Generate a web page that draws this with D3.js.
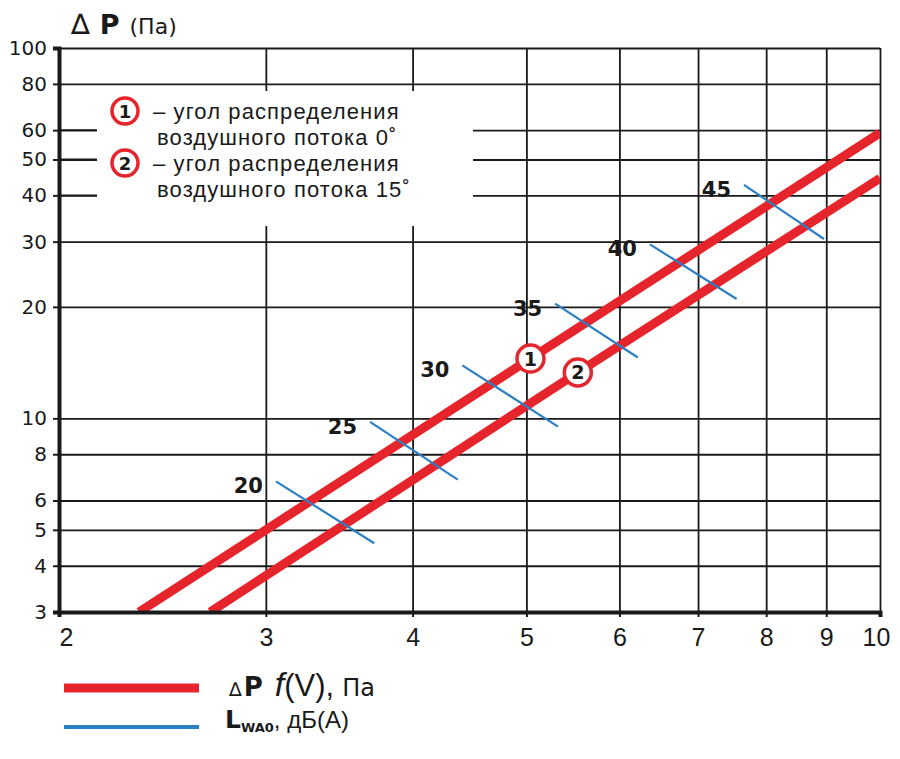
<!DOCTYPE html>
<html>
<head>
<meta charset="utf-8">
<script src="https://cdn.jsdelivr.net/npm/d3@7.9.0/dist/d3.min.js"></script>
<style>
  body { margin: 0; background: #fff; }
  svg { display: block; font-family: "Liberation Sans", Arial, sans-serif; }
</style>
</head>
<body>
<script>
// axis ticks
const flowTicks = [2, 3, 4, 5, 6, 7, 8, 9, 10];
const pressureTicks = [3, 4, 5, 6, 8, 10, 20, 30, 40, 50, 60, 80, 100];

// red curves, ΔP vs V
const curve1V = [2.34, 5.04, 10];
const curve1P = [3, 14.5, 59];
const curve2V = [2.69, 5.53, 10];
const curve2P = [3, 13.3, 44.5];

// numbered markers sitting on the curves
const markerIds = ["1", "2"];
const markerV = [5.04, 5.53];
const markerP = [14.5, 13.3];

// blue sound power lines, LWA0 dB(A)
const noiseLevels = [20, 25, 30, 35, 40, 45];
const noiseStartV = [3.06, 3.68, 4.41, 5.29, 6.37, 7.66];
const noiseStartP = [6.76, 9.78, 13.9, 20.4, 29.5, 42.7];
const noiseEndV = [3.71, 4.37, 5.32, 6.22, 7.55, 8.96];
const noiseEndP = [4.6, 6.83, 9.5, 14.6, 21.0, 30.5];

// legend text, two lines per numbered item
const legendItems = [
  ["– угол распределения", "воздушного потока 0˚"],
  ["– угол распределения", "воздушного потока 15˚"]
];

const red = "#e5242b";
const blue = "#2c7fc3";
const ink = "#1a1a1a";
const wide = "'DejaVu Sans', sans-serif";

let margin = { top: 48, right: 20, bottom: 147, left: 59 };
let width = 900 - margin.left - margin.right;
let height = 759 - margin.top - margin.bottom;

let svg = d3.select("body").append("svg")
  .attr("width", 900)
  .attr("height", 759);

let g = svg.append("g").attr("transform", `translate(${margin.left},${margin.top})`);

let x = d3.scaleLog().domain([2, 10]).range([0, width]);
let y = d3.scaleLog().domain([3, 100]).range([height, 0]);

// grid
let gridX = g.append("g")
  .attr("transform", `translate(0,${height})`)
  .call(d3.axisBottom(x).tickValues(flowTicks.slice(1)).tickSize(-height).tickFormat(""));
gridX.select(".domain").remove();
gridX.selectAll("line").attr("stroke", ink).attr("stroke-width", 1.8);

let gridY = g.append("g")
  .call(d3.axisLeft(y).tickValues(pressureTicks.slice(1)).tickSize(-width).tickFormat(""));
gridY.select(".domain").remove();
gridY.selectAll("line").attr("stroke", ink).attr("stroke-width", 1.8);

// white legend box knocks out the grid
g.append("rect")
  .attr("x", 97 - margin.left)
  .attr("y", 91 - margin.top)
  .attr("width", 376)
  .attr("height", 135)
  .attr("fill", "#fff");

g.append("clipPath").attr("id", "plot-clip")
  .append("rect").attr("width", width).attr("height", height);

let plot = g.append("g").attr("clip-path", "url(#plot-clip)");

let line = d3.line().x((d) => x(d.v)).y((d) => y(d.p));

[[curve1V, curve1P], [curve2V, curve2P]].forEach(([vs, ps]) => {
  plot.append("path")
    .datum(vs.map((v, i) => ({ v: v, p: ps[i] })))
    .attr("d", line)
    .attr("fill", "none")
    .attr("stroke", red)
    .attr("stroke-width", 9);
});

noiseLevels.forEach((lvl, i) => {
  let x0 = x(noiseStartV[i]), y0 = y(noiseStartP[i]);
  plot.append("line")
    .attr("x1", x0).attr("y1", y0)
    .attr("x2", x(noiseEndV[i])).attr("y2", y(noiseEndP[i]))
    .attr("stroke", blue)
    .attr("stroke-width", 2.2);
  g.append("text")
    .attr("x", x0 - 13)
    .attr("y", y0 + 12)
    .attr("text-anchor", "end")
    .attr("font-family", wide)
    .attr("font-size", 21)
    .attr("font-weight", "bold")
    .attr("fill", ink)
    .text(lvl);
});

markerIds.forEach((id, i) => {
  let cx = x(markerV[i]), cy = y(markerP[i]);
  g.append("circle")
    .attr("cx", cx).attr("cy", cy).attr("r", 13.5)
    .attr("fill", "#fff").attr("stroke", red).attr("stroke-width", 3.5);
  g.append("text")
    .attr("x", cx).attr("y", cy + 7)
    .attr("text-anchor", "middle")
    .attr("font-family", wide)
    .attr("font-size", 19).attr("font-weight", "bold")
    .attr("fill", ink)
    .text(id);
});

// axes
let axisX = g.append("g")
  .attr("transform", `translate(0,${height})`)
  .call(d3.axisBottom(x).tickValues(flowTicks).tickSize(5).tickPadding(11).tickFormat(d3.format("d")));
axisX.select(".domain").attr("stroke", ink).attr("stroke-width", 4);
axisX.selectAll("line").attr("stroke", ink).attr("stroke-width", 2);
axisX.selectAll("text")
  .attr("font-family", "'Liberation Sans Narrow', 'Liberation Sans', Arial, sans-serif")
  .attr("font-size", 25)
  .attr("fill", ink);
axisX.selectAll("text").filter((d) => d === 2).attr("dx", 7);
axisX.selectAll("text").filter((d) => d === 10).attr("dx", -4);

let axisY = g.append("g")
  .call(d3.axisLeft(y).tickValues(pressureTicks).tickSize(6).tickPadding(6).tickFormat(d3.format("d")));
axisY.select(".domain").attr("stroke", ink).attr("stroke-width", 4);
axisY.selectAll("line").attr("stroke", ink).attr("stroke-width", 2);
axisY.selectAll("text")
  .attr("font-family", wide)
  .attr("font-size", 20)
  .attr("fill", ink);

// left ticks for 40/50/60 run into the box edge
[40, 50, 60].forEach((p) => {
  g.append("line")
    .attr("x1", 0).attr("x2", 97 - margin.left)
    .attr("y1", y(p)).attr("y2", y(p))
    .attr("stroke", ink).attr("stroke-width", 1.8);
});

// y title
let title = svg.append("text").attr("x", 71).attr("y", 34).attr("fill", ink).attr("font-family", wide);
title.append("tspan").attr("font-size", 28).text("∆");
title.append("tspan").attr("dx", 10).attr("font-size", 27).attr("font-weight", "bold").text("P");
title.append("tspan").attr("dx", 10).attr("font-size", 22).text("(Па)");

// legend inside the chart
let itemBase = [119, 171];
legendItems.forEach((rows, i) => {
  let t = svg.append("text")
    .attr("y", itemBase[i])
    .attr("font-size", 22)
    .attr("letter-spacing", 1.1)
    .attr("fill", ink);
  t.append("tspan").attr("x", 153).text(rows[0]);
  t.append("tspan").attr("x", 157).attr("dy", 26).text(rows[1]);

  let cy = itemBase[i] - 8;
  svg.append("circle")
    .attr("cx", 125).attr("cy", cy).attr("r", 13)
    .attr("fill", "#fff").attr("stroke", red).attr("stroke-width", 3.5);
  svg.append("text")
    .attr("x", 125).attr("y", cy + 7)
    .attr("text-anchor", "middle")
    .attr("font-family", wide)
    .attr("font-size", 18).attr("font-weight", "bold")
    .attr("fill", ink)
    .text(markerIds[i]);
});

// bottom legend
svg.append("line")
  .attr("x1", 64).attr("x2", 199).attr("y1", 688).attr("y2", 688)
  .attr("stroke", red).attr("stroke-width", 9);
svg.append("line")
  .attr("x1", 64).attr("x2", 199).attr("y1", 727).attr("y2", 727)
  .attr("stroke", blue).attr("stroke-width", 4);

let key1 = svg.append("text").attr("x", 229).attr("y", 696).attr("fill", ink);
key1.append("tspan").attr("font-size", 19).attr("font-family", wide).text("∆");
key1.append("tspan").attr("dx", 2).attr("font-size", 26).attr("font-family", wide).attr("font-weight", "bold").text("P");
key1.append("tspan").attr("dx", 12).attr("font-size", 34).attr("font-style", "italic").text("f");
key1.append("tspan").attr("font-size", 31).text("(V),");
key1.append("tspan").attr("dx", 8).attr("font-size", 24).attr("font-family", wide).text("Па");

let key2 = svg.append("text").attr("x", 225).attr("y", 728).attr("fill", ink);
key2.append("tspan").attr("font-size", 25).attr("font-family", wide).attr("font-weight", "bold").text("L");
key2.append("tspan").attr("dy", 4).attr("font-size", 13).attr("font-family", wide).attr("font-weight", "bold").text("WA0");
key2.append("tspan").attr("dy", -4).attr("font-size", 24).text(", дБ(А)");
</script>
</body>
</html>
